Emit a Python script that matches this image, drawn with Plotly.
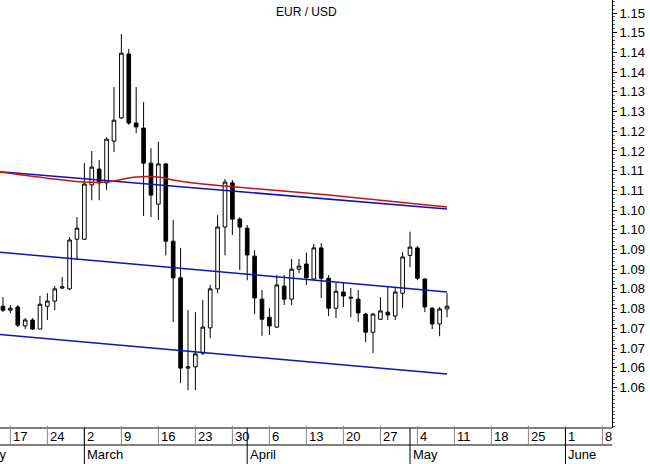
import plotly.graph_objects as go
import pandas as pd

dates = pd.bdate_range("2020-02-14", "2020-05-08").strftime("%Y-%m-%d").tolist()
opens = [1.0806,1.0796,1.0804,1.0756,1.0771,1.0748,1.0806,1.0819,1.0852,1.0850,
         1.0976,1.0976,1.1114,1.1154,1.1119,1.1225,1.1284,1.1446,1.1271,1.1258,
         1.1169,1.1065,1.1167,1.0971,1.0878,1.0649,1.0652,1.0687,1.0751,1.0850,
         1.1007,1.1119,1.1027,1.1004,1.0933,1.0824,1.0778,1.0753,1.0857,1.0824,
         1.0900,1.0913,1.0875,1.0954,1.0877,1.0801,1.0842,1.0829,1.0824,1.0786,
         1.0740,1.0773,1.0791,1.0781,1.0839,1.0935,1.0954,1.0875,1.0801,1.0761,1.0799]
highs = [1.0829,1.0809,1.0809,1.0776,1.0776,1.0832,1.0839,1.0857,1.0880,1.0981,
         1.1032,1.1169,1.1200,1.1177,1.1235,1.1362,1.1497,1.1459,1.1362,1.1324,
         1.1207,1.1223,1.1170,1.1025,1.0954,1.0796,1.0791,1.0822,1.0860,1.1037,
         1.1129,1.1126,1.1032,1.1012,1.0948,1.0847,1.0801,1.0885,1.0885,1.0926,
         1.0926,1.0942,1.0964,1.0966,1.0885,1.0865,1.0865,1.0852,1.0847,1.0789,
         1.0789,1.0829,1.0855,1.0855,1.0943,1.0995,1.0959,1.0877,1.0804,1.0804,1.0839]
lows = [1.0791,1.0789,1.0753,1.0748,1.0746,1.0748,1.0771,1.0796,1.0850,1.0847,
        1.0923,1.0974,1.1075,1.1075,1.1101,1.1197,1.1281,1.1266,1.1245,1.1035,
        1.1032,1.1025,1.0935,1.0766,1.0611,1.0593,1.0593,1.0682,1.0725,1.0839,
        1.0935,1.0987,1.0898,1.0872,1.0786,1.0731,1.0733,1.0751,1.0809,1.0809,
        1.0890,1.0860,1.0872,1.0827,1.0781,1.0776,1.0804,1.0778,1.0766,1.0715,
        1.0687,1.0771,1.0771,1.0771,1.0801,1.0905,1.0872,1.0791,1.0748,1.0730,1.0778]
closes = [1.0796,1.0801,1.0758,1.0771,1.0748,1.0811,1.0819,1.0850,1.0855,1.0974,
          1.1004,1.1116,1.1159,1.1119,1.1230,1.1278,1.1448,1.1271,1.1261,1.1169,
          1.1088,1.1167,1.0971,1.0878,1.0649,1.0652,1.0685,1.0753,1.0850,1.1007,
          1.1121,1.1027,1.1007,1.0936,1.0827,1.0773,1.0756,1.0860,1.0824,1.0900,
          1.0908,1.0878,1.0954,1.0877,1.0801,1.0844,1.0832,1.0827,1.0789,1.0740,
          1.0786,1.0794,1.0784,1.0842,1.0931,1.0956,1.0877,1.0804,1.0761,1.0799,1.0806]

chan_dates = ["2020-02-13", "2020-05-08"]
chan_upper = [1.1148, 1.1053]
chan_mid = [1.0944, 1.0842]
chan_lower = [1.0735, 1.0634]

ma_dates = ["2020-02-13","2020-02-24","2020-03-02","2020-03-05","2020-03-11","2020-03-16",
            "2020-03-18","2020-03-24","2020-03-27","2020-04-16","2020-05-08"]
ma_vals = [1.1148,1.1131,1.1121,1.1121,1.1134,1.1134,1.1126,1.1116,1.1111,1.1088,1.1058]

yticks = [1.155,1.15,1.145,1.14,1.135,1.13,1.125,1.12,1.115,1.11,1.105,1.10,1.095,
          1.09,1.085,1.08,1.075,1.07,1.065,1.06]
ytext = ["1.15","1.15","1.14","1.14","1.13","1.13","1.12","1.12","1.11","1.11","1.10",
         "1.10","1.09","1.09","1.08","1.08","1.07","1.07","1.06","1.06"]

day_ticks = ["2020-02-17","2020-02-24","2020-03-02","2020-03-09","2020-03-16","2020-03-23",
             "2020-03-30","2020-04-06","2020-04-13","2020-04-20","2020-04-27","2020-05-04",
             "2020-05-11","2020-05-18","2020-05-25","2020-06-01","2020-06-08"]
day_text = ["17","24","2","9","16","23","30","6","13","20","27","4","11","18","25","1","8"]
month_starts = ["2020-03-02","2020-04-01","2020-05-01","2020-06-01"]
month_names = ["March","April","May","June"]

FONT = "Liberation Sans"
fig = go.Figure()
fig.add_trace(go.Candlestick(x=dates, open=opens, high=highs, low=lows, close=closes,
    increasing=dict(line=dict(color="#000000", width=1), fillcolor="#ffffff"),
    decreasing=dict(line=dict(color="#000000", width=1), fillcolor="#000000"),
    whiskerwidth=0, showlegend=False))
for vals in (chan_upper, chan_mid, chan_lower):
    fig.add_trace(go.Scatter(x=chan_dates, y=vals, mode="lines",
                             line=dict(color="#1010c0", width=1.5), showlegend=False))
fig.add_trace(go.Scatter(x=ma_dates, y=ma_vals, mode="lines", line_shape="spline",
                         line=dict(color="#d01010", width=1.5), showlegend=False))

shapes = []
ann = []
yb1 = -17/428
yb2 = -36/428
shapes.append(dict(type="line", xref="paper", yref="paper", x0=0, x1=1, y0=0, y1=0,
                   line=dict(color="black", width=1)))
shapes.append(dict(type="line", xref="paper", yref="paper", x0=0, x1=1, y0=yb1, y1=yb1,
                   line=dict(color="black", width=1)))
for d, t in zip(day_ticks, day_text):
    shapes.append(dict(type="line", xref="x", yref="paper", x0=d, x1=d, y0=0.005, y1=yb1,
                       line=dict(color="#888888", width=1)))
    ann.append(dict(x=d, y=yb1/2, xref="x", yref="paper", text=t, showarrow=False,
                    xanchor="left", yanchor="middle", xshift=1,
                    font=dict(size=13, color="black", family=FONT)))
for d, t in zip(month_starts, month_names):
    shapes.append(dict(type="line", xref="x", yref="paper", x0=d, x1=d, y0=0, y1=yb2,
                       line=dict(color="black", width=1)))
    ann.append(dict(x=d, y=(yb1+yb2)/2, xref="x", yref="paper", text=t, showarrow=False,
                    xanchor="left", yanchor="middle", xshift=1,
                    font=dict(size=13, color="black", family=FONT)))
ann.append(dict(x=0.0, y=(yb1+yb2)/2, xref="paper", yref="paper", text="February",
                showarrow=False, xanchor="right", yanchor="middle", xshift=9,
                font=dict(size=13, color="black", family=FONT)))
ann.append(dict(x=0.5, y=1, xref="paper", yref="paper", text="EUR / USD", showarrow=False,
                xanchor="center", yanchor="top", yshift=-3,
                font=dict(size=12, color="black", family=FONT)))

fig.update_layout(
    width=650, height=464, margin=dict(l=0, r=38, t=0, b=36, autoexpand=False),
    paper_bgcolor="white", plot_bgcolor="white",
    shapes=shapes, annotations=ann,
    xaxis=dict(type="date", range=["2020-02-13 14:24", "2020-06-09 07:00"],
               rangebreaks=[dict(bounds=["sat", "mon"])], automargin=False,
               rangeslider=dict(visible=False), showticklabels=False, ticks="",
               showgrid=False, zeroline=False, showline=False),
    yaxis=dict(side="right", range=[1.0497, 1.1583], tickvals=yticks, ticktext=ytext,
               ticks="outside", ticklen=4, tickcolor="black", showgrid=False,
               zeroline=False, showline=True, linecolor="black", linewidth=1,
               automargin=False,
               minor=dict(dtick=0.001, ticks="outside", ticklen=2, tickcolor="#666666"),
               tickfont=dict(size=13, color="black", family=FONT)),
)
fig.write_html("out.html", config={"displayModeBar": False},
               post_script="document.body.style.margin='0';")
